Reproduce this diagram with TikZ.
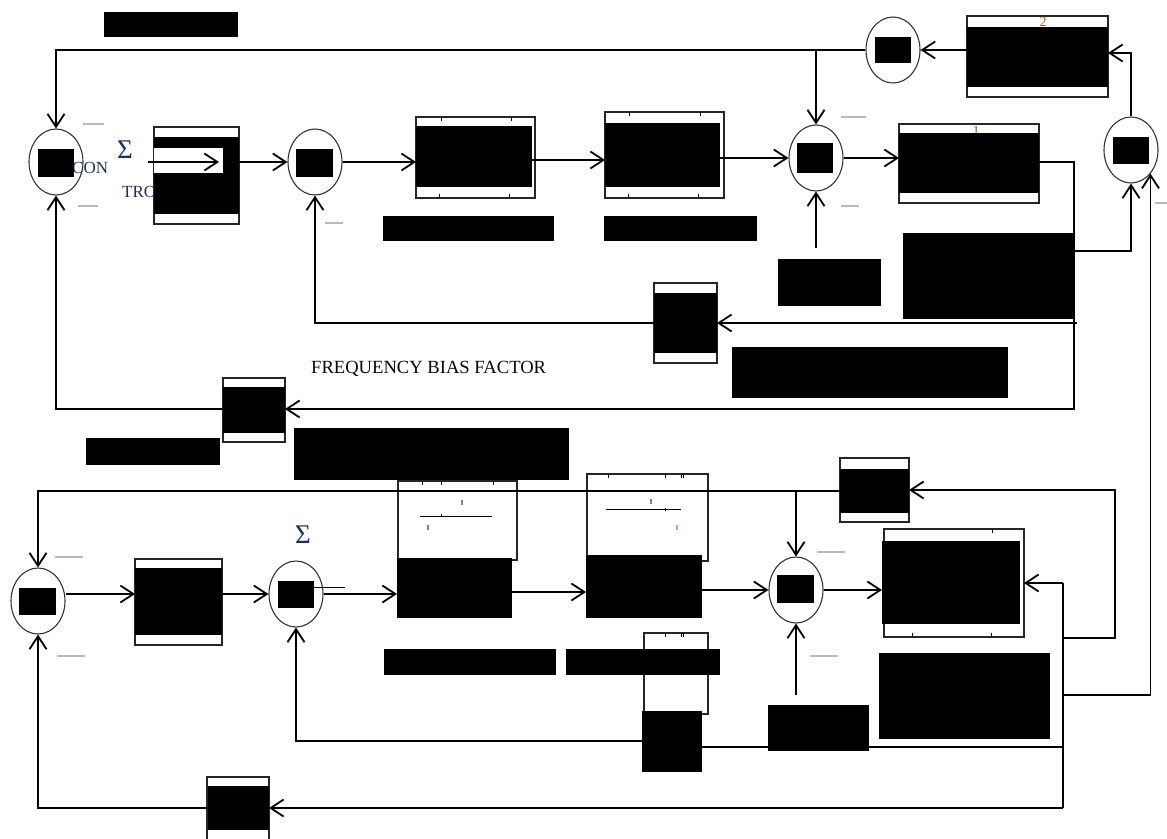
\documentclass[tikz,border=0pt]{standalone}
\usepackage{fontspec}
\setmainfont{Liberation Serif}
\usetikzlibrary{arrows.meta,shapes.geometric}
\definecolor{inkblue}{RGB}{30,45,100}
\definecolor{inkorange}{RGB}{170,95,35}
\tikzset{
  wire/.style    = {line width=1.8pt},
  conn/.style    = {wire,-{Straight Barb[length=13pt,width=17pt]}},
  blk/.style     = {fill=black,inner sep=0pt,outer sep=0pt},
  wht/.style     = {fill=white,inner sep=0pt,outer sep=0pt},
  frm/.style     = {draw=black!85,line width=1.1pt,inner sep=0pt,outer sep=0pt},
  sumnode/.style = {ellipse,draw=black!80,line width=1.1pt,minimum width=54pt,minimum height=66pt,inner sep=0pt},
  minus/.style   = {gray!55,line width=1.8pt},
  tick/.style    = {line width=1pt}
}
\newcommand{\boxnode}[6]{%
  \node[#1,minimum width={(#5-#3)*1pt},minimum height={(#6-#4)*1pt}] (#2) at ({(#3+#5)/2},{(#4+#6)/2}) {};
}

\begin{document}
\begin{tikzpicture}[x=1pt,y=-1pt]
  \useasboundingbox (0,0) rectangle (1167,838);
  \foreach \n/\x/\y in {c1/56/162,c2/315/162,c3/816/158,c4/893/50,c5/1131/150,c6/38/601,c7/296/594,c8/796/590}
    \node[sumnode] (\n) at (\x,\y) {};

  \boxnode{frm}{b1f}{154}{127}{239}{224}
  \boxnode{frm}{b2f}{416}{117}{535}{198}
  \boxnode{frm}{b3f}{605}{112}{724}{198}
  \boxnode{frm}{b4f}{899}{124}{1039}{203}
  \boxnode{frm}{b7f}{967}{16}{1108}{97}
  \boxnode{frm}{b5f}{654}{283}{717}{363}
  \boxnode{frm}{b6f}{223}{378}{285}{442}
  \boxnode{frm}{b8f}{135}{559}{222}{645}
  \boxnode{frm}{b9f}{398}{481}{517}{560}
  \boxnode{frm}{b11f}{587}{474}{708}{561}
  \boxnode{frm}{b12f}{644}{633}{708}{714}
  \boxnode{frm}{b14f}{840}{458}{909}{522}
  \boxnode{frm}{b15f}{884}{529}{1024}{637}
  \boxnode{frm}{b10f}{207}{777}{269}{845}
  \foreach \x in {441,511} \draw[tick] (\x,117) -- ++(0,4);
  \foreach \x in {439,509} \draw[tick] (\x,198) -- ++(0,-4);
  \foreach \x in {629,700} \draw[tick] (\x,112) -- ++(0,4);
  \foreach \x in {628,698} \draw[tick] (\x,198) -- ++(0,-4);
  \foreach \x in {422,441,493} \draw[tick] (\x,481) -- ++(0,4);
  \foreach \x in {608,665,681,683} \draw[tick] (\x,474) -- ++(0,4);
  \foreach \x in {665,681,683} \draw[tick] (\x,633) -- ++(0,4);
  \draw[tick] (992,529) -- ++(0,4);
  \foreach \x in {912,991} \draw[tick] (\x,637) -- ++(0,-4);

  \node[inner sep=0pt,text=inkorange,font=\fontsize{14}{14}\selectfont] (lab1) at (976,131) {1};
  \node[inner sep=0pt,text=inkorange,font=\fontsize{14}{14}\selectfont] (lab2) at (1043,22) {2};
  \node[anchor=west,inner sep=0pt,text=inkblue,font=\fontsize{17}{17}\selectfont] (con) at (72,168) {CON};
  \node[anchor=west,inner sep=0pt,text=inkblue,font=\fontsize{17}{17}\selectfont] (tro) at (122,192) {TRO};

  \boxnode{blk}{b1}{154}{137}{239}{214}
  \boxnode{blk}{b2}{416}{126}{532}{187}
  \boxnode{blk}{b3}{605}{123}{720}{187}
  \boxnode{blk}{b4}{899}{133}{1039}{193}
  \boxnode{blk}{b7}{967}{27}{1108}{87}
  \boxnode{blk}{b5}{654}{293}{717}{353}
  \boxnode{blk}{b6}{223}{387}{285}{433}
  \boxnode{blk}{b8}{135}{568}{222}{635}
  \boxnode{blk}{b9}{397}{558}{512}{618}
  \boxnode{blk}{b11}{586}{555}{702}{618}
  \boxnode{blk}{b12}{642}{711}{702}{772}
  \boxnode{blk}{b14}{840}{469}{909}{513}
  \boxnode{blk}{b15}{882}{541}{1020}{624}
  \boxnode{blk}{b10}{208}{786}{269}{830}
  \boxnode{blk}{c1k}{38}{149}{74}{177}
  \boxnode{blk}{c2k}{296}{149}{333}{177}
  \boxnode{blk}{c3k}{797}{143}{833}{173}
  \boxnode{blk}{c4k}{875}{37}{911}{63}
  \boxnode{blk}{c5k}{1113}{137}{1149}{164}
  \boxnode{blk}{c6k}{19}{588}{56}{615}
  \boxnode{blk}{c7k}{278}{581}{314}{608}
  \boxnode{blk}{c8k}{777}{575}{814}{603}
  \boxnode{blk}{tagA}{104}{12}{238}{37}
  \boxnode{blk}{tagB}{383}{216}{554}{241}
  \boxnode{blk}{tagC}{604}{216}{757}{241}
  \boxnode{blk}{loadA}{778}{259}{881}{306}
  \boxnode{blk}{tieA}{903}{233}{1073}{319}
  \boxnode{blk}{tagD}{732}{347}{1008}{398}
  \boxnode{blk}{tagE}{86}{438}{220}{465}
  \boxnode{blk}{tagF}{294}{428}{569}{480}
  \boxnode{blk}{tagG}{384}{649}{556}{675}
  \boxnode{blk}{tagH}{566}{649}{720}{675}
  \boxnode{blk}{loadB}{768}{705}{869}{751}
  \boxnode{blk}{tieB}{879}{653}{1050}{739}
  \boxnode{wht}{b1cut}{154}{148}{223}{173}

  \node[inner sep=0pt,text=inkblue,font=\fontsize{27}{27}\selectfont] (sigA) at (125,150) {Σ};
  \node[inner sep=0pt,text=inkblue,font=\fontsize{27}{27}\selectfont] (sigB) at (303,535) {Σ};
  \node[anchor=west,inner sep=0pt,text=black!85!inkblue,font=\fontsize{18.6}{20}\selectfont] (fbf) at (311,369) {FREQUENCY BIAS FACTOR};

  \coordinate (inA) at (148,162);
  \coordinate (inB) at (219,162);
  \draw[conn] (inA) -- (inB);

  \coordinate (ka) at (1074,409);
  \coordinate (kb) at (1077,323);
  \draw[conn] (b1.east |- c2) -- (c2.west);
  \draw[conn] (c2.east) -- (c2.east -| b2.west);
  \draw[conn] (b2.east |- 0,160) -- (b3.west |- 0,160);
  \draw[conn] (b3.east |- c3) -- (c3.west);
  \draw[conn] (c3.east) -- (c3.east -| b4.west);
  \draw[conn] (b4.east |- 0,162) -| (ka) -- (b6.east |- ka);
  \draw[conn] (ka |- 0,251) -| (c5.south);
  \draw[conn] (kb) -- (b5.east |- kb);
  \draw[conn] (b5.west |- kb) -| (c2.south);
  \draw[conn] (b6.west |- ka) -| (c1.south);
  \draw[conn] (c5.north) |- (b7.east |- 0,53);
  \draw[conn] (b7.west |- c4) -- (c4.east);
  \draw[conn] (c4.west) -| (c1.north);
  \draw[conn] (c3.north |- c4) -- (c3.north);
  \draw[conn] (c3.south |- 0,248) -- (c3.south);

  \coordinate (kd) at (1063,583);
  \coordinate (ke) at (1063,808);
  \coordinate (kf) at (1115,490);
  \draw[conn] (c6.east |- 0,594) -- (b8.west |- 0,594);
  \draw[conn] (b8.east |- c7) -- (c7.west);
  \draw[conn] (c7.east) -- (c7.east -| b9.west);
  \draw[conn] (b9.east |- 0,592) -- (b11.west |- 0,592);
  \draw[conn] (b11.east |- c8) -- (c8.west);
  \draw[conn] (c8.east) -- (c8.east -| b15.west);
  \draw[conn] (b14.west |- 0,491) -| (c6.north);
  \draw[conn] (c8.north |- 0,491) -- (c8.north);
  \draw[conn] (kd) -- (b15f.east |- kd);
  \draw[wire] (kd) -- (ke);
  \draw[conn] (kd |- 0,638) -| (kf) -- (b14.east |- kf);
  \draw[conn] (kd |- 0,695) -| (c5.south east);
  \draw[wire] (b12.east |- 0,747) -- (kd |- 0,747);
  \draw[conn] (b12.west |- 0,741) -| (c7.south);
  \draw[conn] (c8.south |- 0,695) -- (c8.south);
  \draw[conn] (ke) -- (b10.east |- ke);
  \draw[conn] (b10.west |- ke) -| (c6.south);

  \draw[minus] (83,124) -- (104,124);
  \draw[minus] (78,206) -- (98,206);
  \draw[minus] (325,223) -- (343,223);
  \draw[minus] (841,117) -- (866,117);
  \draw[minus] (841,206) -- (859,206);
  \draw[minus] (1155,203) -- (1167,203);
  \draw[minus] (55,557) -- (83,557);
  \draw[minus] (57,656) -- (85,656);
  \draw[minus] (817,552) -- (845,552);
  \draw[minus] (810,656) -- (838,656);
  \draw[tick] (314,587) -- (345,587);
  \draw[tick] (420,516) -- (492,516);
  \draw[tick] (606,509) -- (681,509);
  \draw[tick] (441,514) -- (441,517);
  \draw[tick] (665,508) -- (665,511);
  \fill[inkblue!60] (461,500) rectangle (463,505);
  \fill[inkblue!60] (427,525) rectangle (429,530);
  \fill[inkblue!60] (650,499) rectangle (652,504);
  \fill[inkorange!60] (676,525) rectangle (678,530);
\end{tikzpicture}
\end{document}
